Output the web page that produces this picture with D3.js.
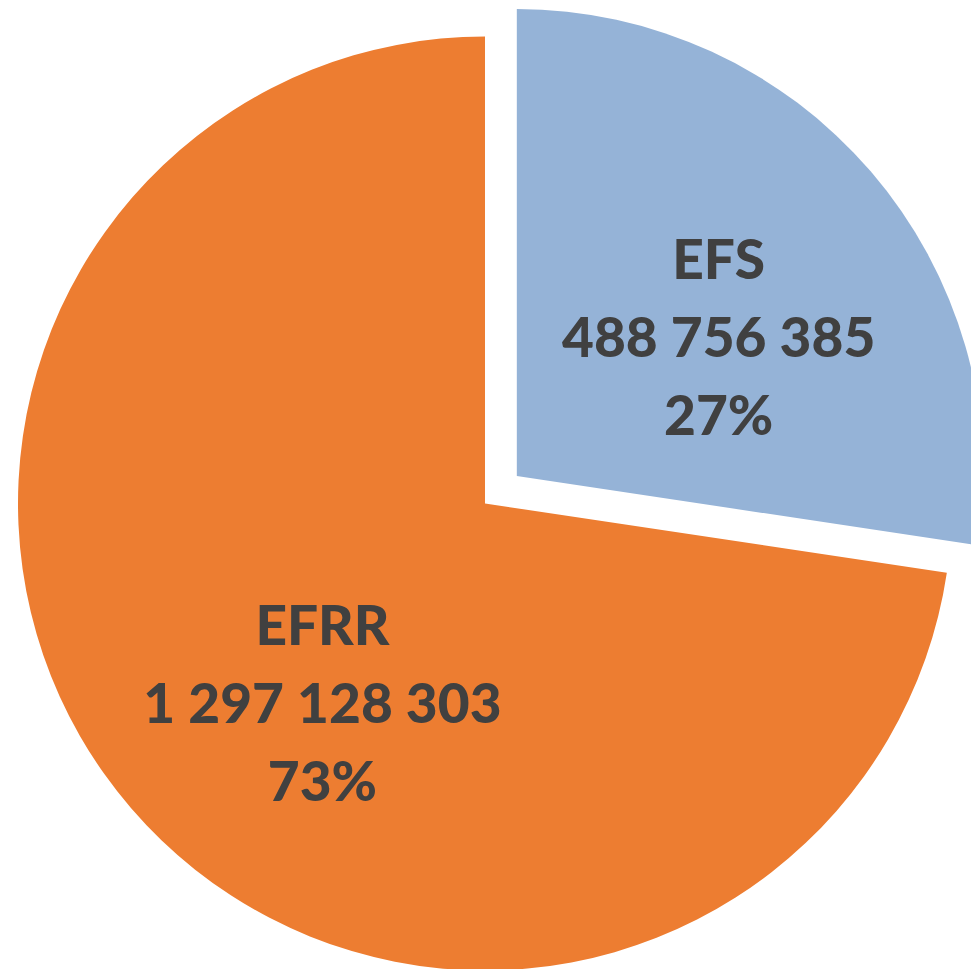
<!DOCTYPE html>
<html><head><meta charset="utf-8">
<script src="https://cdn.jsdelivr.net/npm/d3@7"></script>
<style>html,body{margin:0;padding:0;background:#fff;}svg{display:block;}</style>
</head><body>
<svg id="chart" width="971" height="969"></svg>
<script>
const categories = ["EFS", "EFRR"];
const values = [488756385, 1297128303];
const percentLabels = ["27%", "73%"];
const colors = ["#95B3D7", "#ED7D31"];

const svg = d3.select("#chart");
const cx = 485, cy = 503.5, R = 467, explode = 42;
const fmt = v => d3.format(",")(v).replace(/,/g, " ");

const pie = d3.pie().sort(null).value(d => d.value);
const data = categories.map((c, i) => ({name: c, value: values[i], pct: percentLabels[i], color: colors[i]}));
const arcs = pie(data);
const arc = d3.arc().innerRadius(0).outerRadius(R);

// label placement relative to each slice's own centre (fraction of radius, angle shift in degrees)
const labelPlace = [{f: 0.526, da: 6}, {f: 0.55, da: -10}];

const g = svg.append("g").attr("transform", `translate(${cx},${cy})`);
arcs.forEach((a, i) => {
  const mid = (a.startAngle + a.endAngle) / 2;
  const off = i === 0 ? explode : 0;
  const ox = Math.sin(mid) * off, oy = -Math.cos(mid) * off;
  const sg = g.append("g").attr("transform", `translate(${ox},${oy})`);
  sg.append("path").attr("d", arc(a)).attr("fill", a.data.color);
  const la = mid + labelPlace[i].da * Math.PI / 180;
  const lr = R * labelPlace[i].f;
  const lx = Math.sin(la) * lr, ly = -Math.cos(la) * lr;
  const t = sg.append("text")
    .attr("text-anchor", "middle")
    .attr("font-family", "Lato, 'Open Sans', sans-serif")
    .attr("font-weight", 900)
    .attr("font-size", 55)
    .attr("fill", "#404040");
  const lines = [a.data.name, fmt(a.data.value), a.data.pct];
  lines.forEach((s, k) => {
    t.append("tspan").attr("x", lx).attr("y", ly + 21 + (k - 1) * 78).text(s);
  });
});
</script>
</body></html>
